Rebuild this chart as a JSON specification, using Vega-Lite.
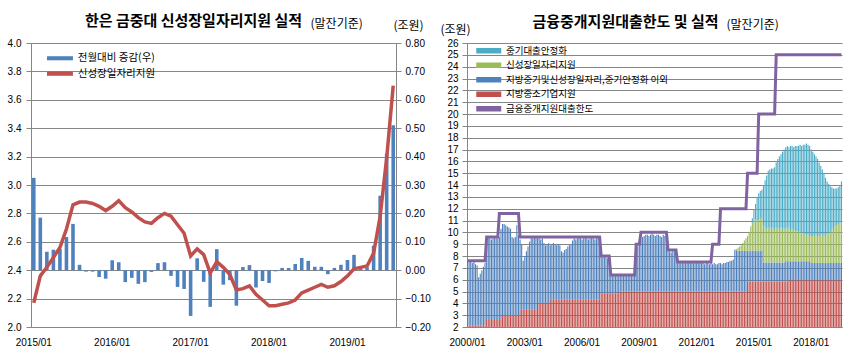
{
  "$schema": "https://vega.github.io/schema/vega-lite/v6.json",
  "padding": {"left": 7, "top": 14, "right": 5, "bottom": 4},
  "bounds": "flush",
  "spacing": 71,
  "background": "#ffffff",
  "config": {
    "font": "Noto Sans CJK KR",
    "view": {"stroke": null},
    "axis": {"labelFont": "Liberation Sans", "labelFontSize": 10, "labelColor": "#000000", "domainColor": "#868686", "tickColor": "#868686", "gridColor": "#868686", "gridWidth": 1, "titleFont": "Noto Sans CJK KR", "titleFontWeight": "normal", "titleFontSize": 12, "titleColor": "#000000", "labelOverlap": false},
    "title": {"font": "Noto Sans CJK KR", "fontSize": 15, "fontWeight": "bold", "color": "#000000", "frame": "group", "anchor": "middle"},
    "legend": {"labelFont": "Noto Sans CJK KR", "labelFontSize": 10.5, "labelColor": "#000000", "padding": 0, "symbolStrokeWidth": 0, "labelLimit": 400}
  },
  "resolve": {"scale": {"color": "independent"}, "legend": {"color": "independent"}},
  "datasets": {
    "left": [
      {"d":"2015/01","chg":0.325,"val":2.17},{"d":"2015/02","chg":0.185,"val":2.36},{"d":"2015/03","chg":0.065,"val":2.42},{"d":"2015/04","chg":0.072,"val":2.49},{"d":"2015/05","chg":0.075,"val":2.56},{"d":"2015/06","chg":0.117,"val":2.69},{"d":"2015/07","chg":0.163,"val":2.86},{"d":"2015/08","chg":0.019,"val":2.88},{"d":"2015/09","chg":-0.005,"val":2.88},{"d":"2015/10","chg":-0.005,"val":2.87},{"d":"2015/11","chg":-0.024,"val":2.85},{"d":"2015/12","chg":-0.03,"val":2.82},
      {"d":"2016/01","chg":0.035,"val":2.85},{"d":"2016/02","chg":0.028,"val":2.89},{"d":"2016/03","chg":-0.042,"val":2.84},{"d":"2016/04","chg":-0.027,"val":2.81},{"d":"2016/05","chg":-0.048,"val":2.77},{"d":"2016/06","chg":-0.042,"val":2.74},{"d":"2016/07","chg":-0.006,"val":2.73},{"d":"2016/08","chg":0.025,"val":2.77},{"d":"2016/09","chg":0.028,"val":2.80},{"d":"2016/10","chg":-0.02,"val":2.78},{"d":"2016/11","chg":-0.059,"val":2.72},{"d":"2016/12","chg":-0.066,"val":2.66},
      {"d":"2017/01","chg":-0.161,"val":2.50},{"d":"2017/02","chg":0.042,"val":2.55},{"d":"2017/03","chg":-0.041,"val":2.51},{"d":"2017/04","chg":-0.129,"val":2.38},{"d":"2017/05","chg":0.074,"val":2.46},{"d":"2017/06","chg":-0.051,"val":2.42},{"d":"2017/07","chg":-0.035,"val":2.37},{"d":"2017/08","chg":-0.125,"val":2.26},{"d":"2017/09","chg":0.011,"val":2.27},{"d":"2017/10","chg":0.018,"val":2.29},{"d":"2017/11","chg":-0.061,"val":2.23},{"d":"2017/12","chg":-0.038,"val":2.19},
      {"d":"2018/01","chg":-0.045,"val":2.15},{"d":"2018/02","chg":-0.004,"val":2.15},{"d":"2018/03","chg":0.008,"val":2.16},{"d":"2018/04","chg":0.008,"val":2.17},{"d":"2018/05","chg":0.022,"val":2.19},{"d":"2018/06","chg":0.043,"val":2.24},{"d":"2018/07","chg":0.033,"val":2.26},{"d":"2018/08","chg":0.012,"val":2.28},{"d":"2018/09","chg":0.012,"val":2.30},{"d":"2018/10","chg":-0.014,"val":2.28},{"d":"2018/11","chg":0.008,"val":2.29},{"d":"2018/12","chg":0.019,"val":2.32},
      {"d":"2019/01","chg":0.036,"val":2.36},{"d":"2019/02","chg":0.054,"val":2.41},{"d":"2019/03","chg":0.008,"val":2.42},{"d":"2019/04","chg":0.01,"val":2.43},{"d":"2019/05","chg":0.086,"val":2.52},{"d":"2019/06","chg":0.262,"val":2.78},{"d":"2019/07","chg":0.41,"val":3.19},{"d":"2019/08","chg":0.51,"val":3.70}
    ],
    "series": [
      {"k":"t","label":"중기대출안정화","rank":4},
      {"k":"g","label":"신성장일자리지원","rank":3},
      {"k":"b","label":"지방중기및신성장일자리,중기안정화 이외","rank":2},
      {"k":"r","label":"지방중소기업지원","rank":1}
    ],
    "right": [
      {"d":"2000/01","r":2.1,"b":5.4,"l":7.6},{"d":"2000/02","r":2.1,"b":5.4,"l":7.6},{"d":"2000/03","r":2.1,"b":5.4,"l":7.6},{"d":"2000/04","r":2.1,"b":5.3,"l":7.6},{"d":"2000/05","r":2.1,"b":5.4,"l":7.6},{"d":"2000/06","r":2.1,"b":5.2,"l":7.6},{"d":"2000/07","r":2.1,"b":5.1,"l":7.6},{"d":"2000/08","r":2.1,"b":4.1,"l":7.6},{"d":"2000/09","r":2.1,"b":4.4,"l":7.6},{"d":"2000/10","r":2.1,"b":4.7,"l":7.6},{"d":"2000/11","r":2.1,"b":5.0,"l":7.6},{"d":"2000/12","r":2.1,"b":5.3,"l":7.6},
      {"d":"2001/01","r":2.6,"b":6.6,"l":9.6},{"d":"2001/02","r":2.6,"b":6.9,"l":9.6},{"d":"2001/03","r":2.6,"b":6.9,"l":9.6},{"d":"2001/04","r":2.6,"b":6.8,"l":9.6},{"d":"2001/05","r":2.6,"b":6.9,"l":9.6},{"d":"2001/06","r":2.6,"b":7.0,"l":9.6},{"d":"2001/07","r":2.6,"b":6.9,"l":9.6},{"d":"2001/08","r":2.6,"b":6.9,"l":9.6},{"d":"2001/09","r":2.6,"b":7.0,"l":11.6},{"d":"2001/10","r":2.6,"b":7.7,"l":11.6},{"d":"2001/11","r":2.95,"b":7.75,"l":11.6},{"d":"2001/12","r":2.95,"b":7.75,"l":11.6},
      {"d":"2002/01","r":2.95,"b":7.65,"l":11.6},{"d":"2002/02","r":2.95,"b":7.55,"l":11.6},{"d":"2002/03","r":2.95,"b":7.45,"l":11.6},{"d":"2002/04","r":2.95,"b":7.35,"l":11.6},{"d":"2002/05","r":2.95,"b":6.65,"l":11.6},{"d":"2002/06","r":2.95,"b":6.55,"l":11.6},{"d":"2002/07","r":2.95,"b":6.65,"l":11.6},{"d":"2002/08","r":2.95,"b":7.65,"l":11.6},{"d":"2002/09","r":2.95,"b":6.85,"l":11.6},{"d":"2002/10","r":3.5,"b":5.9,"l":9.6},{"d":"2002/11","r":3.5,"b":5.5,"l":9.6},{"d":"2002/12","r":3.5,"b":4.1,"l":9.6},
      {"d":"2003/01","r":3.5,"b":4.5,"l":9.6},{"d":"2003/02","r":3.5,"b":4.9,"l":9.6},{"d":"2003/03","r":3.5,"b":5.3,"l":9.6},{"d":"2003/04","r":3.5,"b":5.7,"l":9.6},{"d":"2003/05","r":3.5,"b":6.0,"l":9.6},{"d":"2003/06","r":3.5,"b":6.0,"l":9.6},{"d":"2003/07","r":3.5,"b":6.1,"l":9.6},{"d":"2003/08","r":3.5,"b":6.0,"l":9.6},{"d":"2003/09","r":4.0,"b":5.6,"l":9.6},{"d":"2003/10","r":4.0,"b":5.5,"l":9.6},{"d":"2003/11","r":4.0,"b":5.4,"l":9.6},{"d":"2003/12","r":4.0,"b":5.5,"l":9.6},
      {"d":"2004/01","r":4.0,"b":5.1,"l":9.6},{"d":"2004/02","r":4.0,"b":4.9,"l":9.6},{"d":"2004/03","r":4.0,"b":5.0,"l":9.6},{"d":"2004/04","r":4.0,"b":5.1,"l":9.6},{"d":"2004/05","r":4.35,"b":4.55,"l":9.6},{"d":"2004/06","r":4.35,"b":4.65,"l":9.6},{"d":"2004/07","r":4.35,"b":4.75,"l":9.6},{"d":"2004/08","r":4.35,"b":4.65,"l":9.6},{"d":"2004/09","r":4.35,"b":4.55,"l":9.6},{"d":"2004/10","r":4.35,"b":4.65,"l":9.6},{"d":"2004/11","r":4.35,"b":4.55,"l":9.6},{"d":"2004/12","r":4.35,"b":4.05,"l":9.6},
      {"d":"2005/01","r":4.35,"b":3.95,"l":9.6},{"d":"2005/02","r":4.35,"b":4.15,"l":9.6},{"d":"2005/03","r":4.35,"b":4.25,"l":9.6},{"d":"2005/04","r":4.35,"b":4.45,"l":9.6},{"d":"2005/05","r":4.35,"b":4.55,"l":9.6},{"d":"2005/06","r":4.35,"b":4.65,"l":9.6},{"d":"2005/07","r":4.35,"b":4.95,"l":9.6},{"d":"2005/08","r":4.35,"b":5.15,"l":9.6},{"d":"2005/09","r":4.35,"b":5.05,"l":9.6},{"d":"2005/10","r":4.35,"b":5.15,"l":9.6},{"d":"2005/11","r":4.35,"b":5.25,"l":9.6},{"d":"2005/12","r":4.35,"b":5.15,"l":9.6},
      {"d":"2006/01","r":4.35,"b":5.05,"l":9.6},{"d":"2006/02","r":4.35,"b":5.15,"l":9.6},{"d":"2006/03","r":4.35,"b":5.25,"l":9.6},{"d":"2006/04","r":4.35,"b":5.15,"l":9.6},{"d":"2006/05","r":4.35,"b":5.05,"l":9.6},{"d":"2006/06","r":4.35,"b":5.15,"l":9.6},{"d":"2006/07","r":4.35,"b":5.25,"l":9.6},{"d":"2006/08","r":4.35,"b":5.15,"l":9.6},{"d":"2006/09","r":4.35,"b":5.05,"l":9.6},{"d":"2006/10","r":4.35,"b":5.15,"l":9.6},{"d":"2006/11","r":4.35,"b":5.25,"l":9.6},{"d":"2006/12","r":4.35,"b":5.15,"l":9.6},
      {"d":"2007/01","r":4.85,"b":3.15,"l":8.0},{"d":"2007/02","r":4.85,"b":3.05,"l":8.0},{"d":"2007/03","r":4.85,"b":3.15,"l":8.0},{"d":"2007/04","r":4.85,"b":3.05,"l":8.0},{"d":"2007/05","r":4.85,"b":2.95,"l":8.0},{"d":"2007/06","r":4.85,"b":3.05,"l":8.0},{"d":"2007/07","r":4.85,"b":1.55,"l":6.4},{"d":"2007/08","r":4.85,"b":1.45,"l":6.4},{"d":"2007/09","r":4.85,"b":1.55,"l":6.4},{"d":"2007/10","r":4.85,"b":1.55,"l":6.4},{"d":"2007/11","r":4.85,"b":1.45,"l":6.4},{"d":"2007/12","r":4.85,"b":1.55,"l":6.4},
      {"d":"2008/01","r":5.0,"b":1.4,"l":6.4},{"d":"2008/02","r":5.0,"b":1.3,"l":6.4},{"d":"2008/03","r":5.0,"b":1.4,"l":6.4},{"d":"2008/04","r":5.0,"b":1.4,"l":6.4},{"d":"2008/05","r":5.0,"b":1.3,"l":6.4},{"d":"2008/06","r":5.0,"b":1.4,"l":6.4},{"d":"2008/07","r":5.0,"b":1.4,"l":6.4},{"d":"2008/08","r":5.0,"b":1.3,"l":6.4},{"d":"2008/09","r":5.0,"b":1.4,"l":6.4},{"d":"2008/10","r":5.0,"b":1.3,"l":6.4},{"d":"2008/11","r":5.0,"b":3.3,"l":9.0},{"d":"2008/12","r":5.0,"b":3.8,"l":9.0},
      {"d":"2009/01","r":5.0,"b":4.0,"l":9.0},{"d":"2009/02","r":5.0,"b":4.3,"l":10.0},{"d":"2009/03","r":5.0,"b":4.6,"l":10.0},{"d":"2009/04","r":5.0,"b":4.7,"l":10.0},{"d":"2009/05","r":5.0,"b":4.8,"l":10.0},{"d":"2009/06","r":5.0,"b":4.8,"l":10.0},{"d":"2009/07","r":5.0,"b":4.7,"l":10.0},{"d":"2009/08","r":5.0,"b":4.8,"l":10.0},{"d":"2009/09","r":5.0,"b":4.9,"l":10.0},{"d":"2009/10","r":5.0,"b":4.8,"l":10.0},{"d":"2009/11","r":5.0,"b":4.7,"l":10.0},{"d":"2009/12","r":5.0,"b":4.8,"l":10.0},
      {"d":"2010/01","r":5.0,"b":4.8,"l":10.0},{"d":"2010/02","r":5.0,"b":4.7,"l":10.0},{"d":"2010/03","r":5.0,"b":4.6,"l":10.0},{"d":"2010/04","r":5.0,"b":4.8,"l":10.0},{"d":"2010/05","r":5.0,"b":4.7,"l":10.0},{"d":"2010/06","r":5.0,"b":4.5,"l":10.0},{"d":"2010/07","r":5.0,"b":3.4,"l":8.5},{"d":"2010/08","r":5.0,"b":3.4,"l":8.5},{"d":"2010/09","r":5.0,"b":3.3,"l":8.5},{"d":"2010/10","r":5.0,"b":3.4,"l":8.5},{"d":"2010/11","r":5.0,"b":3.4,"l":8.5},{"d":"2010/12","r":5.0,"b":3.3,"l":8.5},
      {"d":"2011/01","r":5.0,"b":2.5,"l":7.5},{"d":"2011/02","r":5.0,"b":2.4,"l":7.5},{"d":"2011/03","r":5.0,"b":2.5,"l":7.5},{"d":"2011/04","r":5.0,"b":2.4,"l":7.5},{"d":"2011/05","r":5.0,"b":2.4,"l":7.5},{"d":"2011/06","r":5.0,"b":2.5,"l":7.5},{"d":"2011/07","r":5.0,"b":2.4,"l":7.5},{"d":"2011/08","r":5.0,"b":2.4,"l":7.5},{"d":"2011/09","r":5.0,"b":2.5,"l":7.5},{"d":"2011/10","r":5.0,"b":2.4,"l":7.5},{"d":"2011/11","r":5.0,"b":2.4,"l":7.5},{"d":"2011/12","r":5.0,"b":2.5,"l":7.5},
      {"d":"2012/01","r":5.0,"b":2.4,"l":7.5},{"d":"2012/02","r":5.0,"b":2.4,"l":7.5},{"d":"2012/03","r":5.0,"b":2.5,"l":7.5},{"d":"2012/04","r":5.0,"b":2.4,"l":7.5},{"d":"2012/05","r":5.0,"b":2.4,"l":7.5},{"d":"2012/06","r":5.0,"b":2.3,"l":7.5},{"d":"2012/07","r":5.0,"b":2.4,"l":7.5},{"d":"2012/08","r":5.0,"b":2.4,"l":7.5},{"d":"2012/09","r":5.0,"b":2.3,"l":7.5},{"d":"2012/10","r":5.0,"b":2.4,"l":7.5},{"d":"2012/11","r":5.0,"b":2.3,"l":9.0},{"d":"2012/12","r":5.0,"b":2.4,"l":9.0},
      {"d":"2013/01","r":5.0,"b":2.3,"l":9.0},{"d":"2013/02","r":5.0,"b":2.3,"l":9.0},{"d":"2013/03","r":5.0,"b":2.4,"l":9.0},{"d":"2013/04","r":5.0,"b":2.4,"l":12},{"d":"2013/05","r":5.0,"b":2.3,"l":12},{"d":"2013/06","r":5.0,"b":2.4,"l":12},{"d":"2013/07","r":5.0,"b":2.4,"l":12},{"d":"2013/08","r":5.0,"b":2.5,"l":12},{"d":"2013/09","r":5.0,"b":2.5,"l":12},{"d":"2013/10","r":5.0,"b":2.6,"l":12},{"d":"2013/11","r":5.0,"b":2.6,"l":12},{"d":"2013/12","r":5.0,"b":2.7,"l":12},
      {"d":"2014/01","r":5.0,"b":3.5,"g":0.05,"l":12},{"d":"2014/02","r":5.0,"b":3.45,"g":0.15,"l":12},{"d":"2014/03","r":5.0,"b":3.45,"g":0.25,"l":12},{"d":"2014/04","r":5.0,"b":3.45,"g":0.35,"l":12},{"d":"2014/05","r":5.0,"b":3.45,"g":0.45,"l":12},{"d":"2014/06","r":5.0,"b":3.45,"g":0.65,"l":12},{"d":"2014/07","r":5.0,"b":3.45,"g":0.85,"l":12},{"d":"2014/08","r":5.0,"b":3.45,"g":1.05,"l":12},{"d":"2014/09","r":5.85,"b":2.6,"g":1.25,"l":15},{"d":"2014/10","r":5.85,"b":2.6,"g":1.55,"l":15},{"d":"2014/11","r":5.85,"b":2.55,"g":2.0,"t":0.1,"l":15},{"d":"2014/12","r":5.85,"b":2.6,"g":2.35,"t":0.4,"l":15},
      {"d":"2015/01","r":5.85,"b":2.6,"g":2.65,"t":0.8,"l":15},{"d":"2015/02","r":5.85,"b":2.6,"g":2.65,"t":1.3,"l":15},{"d":"2015/03","r":5.85,"b":2.6,"g":2.55,"t":1.9,"l":15},{"d":"2015/04","r":5.85,"b":2.55,"g":2.6,"t":2.3,"l":20},{"d":"2015/05","r":5.85,"b":2.6,"g":2.75,"t":2.3,"l":20},{"d":"2015/06","r":5.85,"b":2.6,"g":2.65,"t":2.5,"l":20},{"d":"2015/07","r":5.85,"b":1.6,"g":3.15,"t":3.4,"l":20},{"d":"2015/08","r":5.85,"b":1.6,"g":2.95,"t":4.0,"l":20},{"d":"2015/09","r":5.85,"b":1.6,"g":2.85,"t":4.5,"l":20},{"d":"2015/10","r":5.85,"b":1.6,"g":2.95,"t":4.8,"l":20},{"d":"2015/11","r":5.85,"b":1.6,"g":2.85,"t":5.0,"l":20},{"d":"2015/12","r":5.85,"b":1.6,"g":2.95,"t":5.0,"l":20},
      {"d":"2016/01","r":5.85,"b":1.6,"g":2.85,"t":5.1,"l":20},{"d":"2016/02","r":5.85,"b":1.6,"g":2.85,"t":5.2,"l":20},{"d":"2016/03","r":5.85,"b":1.6,"g":2.95,"t":5.5,"l":25},{"d":"2016/04","r":5.85,"b":1.6,"g":2.85,"t":5.9,"l":25},{"d":"2016/05","r":5.85,"b":1.6,"g":2.85,"t":6.1,"l":25},{"d":"2016/06","r":5.85,"b":1.6,"g":2.95,"t":6.2,"l":25},{"d":"2016/07","r":5.85,"b":1.6,"g":2.85,"t":6.5,"l":25},{"d":"2016/08","r":5.85,"b":1.6,"g":2.85,"t":6.7,"l":25},{"d":"2016/09","r":5.85,"b":1.7,"g":2.75,"t":6.9,"l":25},{"d":"2016/10","r":5.85,"b":1.7,"g":2.85,"t":6.9,"l":25},{"d":"2016/11","r":5.95,"b":1.6,"g":2.75,"t":6.9,"l":25},{"d":"2016/12","r":5.95,"b":1.6,"g":2.65,"t":7.1,"l":25},
      {"d":"2017/01","r":5.95,"b":1.6,"g":2.75,"t":7.0,"l":25},{"d":"2017/02","r":5.95,"b":1.6,"g":2.65,"t":7.0,"l":25},{"d":"2017/03","r":5.95,"b":1.6,"g":2.65,"t":7.1,"l":25},{"d":"2017/04","r":5.95,"b":1.6,"g":2.55,"t":7.2,"l":25},{"d":"2017/05","r":5.95,"b":1.6,"g":2.55,"t":7.2,"l":25},{"d":"2017/06","r":5.95,"b":1.6,"g":2.45,"t":7.4,"l":25},{"d":"2017/07","r":5.95,"b":1.6,"g":2.35,"t":7.4,"l":25},{"d":"2017/08","r":5.95,"b":1.6,"g":2.35,"t":7.5,"l":25},{"d":"2017/09","r":5.95,"b":1.6,"g":2.25,"t":7.6,"l":25},{"d":"2017/10","r":5.95,"b":1.6,"g":2.25,"t":7.7,"l":25},{"d":"2017/11","r":5.95,"b":1.6,"g":2.25,"t":7.6,"l":25},{"d":"2017/12","r":5.95,"b":1.6,"g":2.15,"t":7.6,"l":25},
      {"d":"2018/01","r":5.95,"b":1.45,"g":2.3,"t":7.3,"l":25},{"d":"2018/02","r":5.95,"b":1.45,"g":2.3,"t":7.1,"l":25},{"d":"2018/03","r":5.95,"b":1.45,"g":2.3,"t":6.9,"l":25},{"d":"2018/04","r":5.95,"b":1.45,"g":2.4,"t":6.6,"l":25},{"d":"2018/05","r":5.95,"b":1.45,"g":2.3,"t":6.5,"l":25},{"d":"2018/06","r":5.95,"b":1.45,"g":2.3,"t":6.2,"l":25},{"d":"2018/07","r":5.95,"b":1.45,"g":2.4,"t":5.8,"l":25},{"d":"2018/08","r":5.95,"b":1.45,"g":2.4,"t":5.5,"l":25},{"d":"2018/09","r":5.95,"b":1.45,"g":2.3,"t":5.3,"l":25},{"d":"2018/10","r":5.95,"b":1.45,"g":2.4,"t":4.8,"l":25},{"d":"2018/11","r":5.95,"b":1.45,"g":2.4,"t":4.5,"l":25},{"d":"2018/12","r":5.95,"b":1.45,"g":2.5,"t":4.2,"l":25},
      {"d":"2019/01","r":5.95,"b":1.45,"g":2.6,"t":3.9,"l":25},{"d":"2019/02","r":5.95,"b":1.45,"g":2.8,"t":3.6,"l":25},{"d":"2019/03","r":5.95,"b":1.45,"g":2.9,"t":3.4,"l":25},{"d":"2019/04","r":5.95,"b":1.45,"g":3.1,"t":3.2,"l":25},{"d":"2019/05","r":5.95,"b":1.45,"g":3.2,"t":3.1,"l":25},{"d":"2019/06","r":5.95,"b":1.45,"g":3.3,"t":3.1,"l":25},{"d":"2019/07","r":5.95,"b":1.45,"g":3.4,"t":3.2,"l":25},{"d":"2019/08","r":5.95,"b":1.45,"g":3.5,"t":3.4,"l":25}
    ]
  },
  "hconcat": [
    {
      "title": {"text": "한은 금중대 신성장일자리지원 실적", "dx": -20, "offset": -12},
      "width": 365,
      "height": 284,
      "data": {"name": "left"},
      "encoding": {
        "x": {"field": "d", "type": "ordinal", "scale": {"paddingInner": 0.45, "paddingOuter": 0.15},
          "axis": {"values": ["2015/01","2016/01","2017/01","2018/01","2019/01"], "labelAngle": 0, "title": null, "ticks": false, "labelPadding": 10}}
      },
      "layer": [
        {
          "mark": {"type": "bar"},
          "encoding": {
            "y": {"field": "chg", "type": "quantitative", "scale": {"domain": [-0.2, 0.8], "nice": false},
              "axis": {"orient": "right", "values": [-0.2,-0.1,0,0.1,0.2,0.3,0.4,0.5,0.6,0.7,0.8], "format": ".2f", "grid": false, "tickSize": 5, "labelPadding": 4, "labelOverlap": false,
                "title": "(조원)", "titleAngle": 0, "titleX": 12, "titleY": -18, "titleAlign": "center", "titleBaseline": "middle"}},
            "color": {"datum": "전월대비 증감(우)",
              "scale": {"domain": ["전월대비 증감(우)", "신성장일자리지원"], "range": ["#4F81BD", "#C0504D"]},
              "legend": {"orient": "none", "legendX": 23.7, "legendY": 10, "title": null, "symbolType": "M-3,-0.47H3V0.47H-3Z", "symbolSize": 75, "labelOffset": 12.6, "rowPadding": 4.5}}
          }
        },
        {
          "mark": {"type": "line", "strokeWidth": 3.5},
          "encoding": {
            "y": {"field": "val", "type": "quantitative", "scale": {"domain": [2, 4], "nice": false, "zero": false},
              "axis": {"orient": "left", "values": [2,2.2,2.4,2.6,2.8,3,3.2,3.4,3.6,3.8,4], "format": ".1f", "grid": true, "tickSize": 5, "labelPadding": 5, "labelOverlap": false,
                "title": "(말잔기준)", "titleAngle": 0, "titleX": 279, "titleY": -20, "titleAlign": "left", "titleBaseline": "middle"}},
            "color": {"datum": "신성장일자리지원"}
          }
        }
      ],
      "resolve": {"scale": {"y": "independent"}}
    },
    {
      "title": {"text": "금융중개지원대출한도 및 실적", "dx": -29, "offset": -12},
      "width": 375,
      "height": 284,
      "data": {"name": "right"},
      "encoding": {
        "x": {"field": "d", "type": "ordinal", "scale": {"paddingInner": 0.3, "paddingOuter": 0},
          "axis": {"values": ["2000/01","2003/01","2006/01","2009/01","2012/01","2015/01","2018/01"], "labelAngle": 0, "ticks": false, "labelPadding": 10,
            "title": "(말잔기준)", "titleAngle": 0, "titleX": 259, "titleY": -303, "titleAlign": "left", "titleBaseline": "middle"}}
      },
      "layer": [
        {
          "transform": [
            {"fold": ["r", "b", "g", "t"], "as": ["key", "value"]},
            {"lookup": "key", "from": {"data": {"name": "series"}, "key": "k", "fields": ["label", "rank"]}}
          ],
          "mark": {"type": "bar", "clip": true},
          "encoding": {
            "y": {"field": "value", "type": "quantitative", "stack": "zero", "scale": {"domain": [2, 26], "nice": false, "zero": false},
              "axis": {"values": [2,3,4,5,6,7,8,9,10,11,12,13,14,15,16,17,18,19,20,21,22,23,24,25,26], "grid": true, "tickSize": 5, "labelPadding": 4, "labelOverlap": false,
                "title": "(조원)", "titleAngle": 0, "titleX": -12, "titleY": -14, "titleAlign": "center", "titleBaseline": "middle"}},
            "color": {"field": "label", "type": "nominal",
              "scale": {"domain": ["중기대출안정화", "신성장일자리지원", "지방중기및신성장일자리,중기안정화 이외", "지방중소기업지원", "금융중개지원대출한도"], "range": ["#4BACC6", "#9BBB59", "#4F81BD", "#C0504D", "#8064A2"]},
              "legend": {"orient": "none", "legendX": 17, "legendY": 3, "title": null, "symbolType": "M-3,-0.66H3V0.66H-3Z", "symbolSize": 69.4, "labelOffset": 12.4, "labelFontSize": 9.5, "rowPadding": 3.5}},
            "order": {"field": "rank", "type": "quantitative"}
          }
        },
        {
          "mark": {"type": "line", "strokeWidth": 3},
          "encoding": {
            "y": {"field": "l", "type": "quantitative",
              "axis": {"values": [2,3,4,5,6,7,8,9,10,11,12,13,14,15,16,17,18,19,20,21,22,23,24,25,26], "grid": true, "tickSize": 5, "labelPadding": 4, "labelOverlap": false,
                "title": "(조원)", "titleAngle": 0, "titleX": -12, "titleY": -14, "titleAlign": "center", "titleBaseline": "middle"}},
            "color": {"datum": "금융중개지원대출한도"}
          }
        }
      ]
    }
  ]
}
